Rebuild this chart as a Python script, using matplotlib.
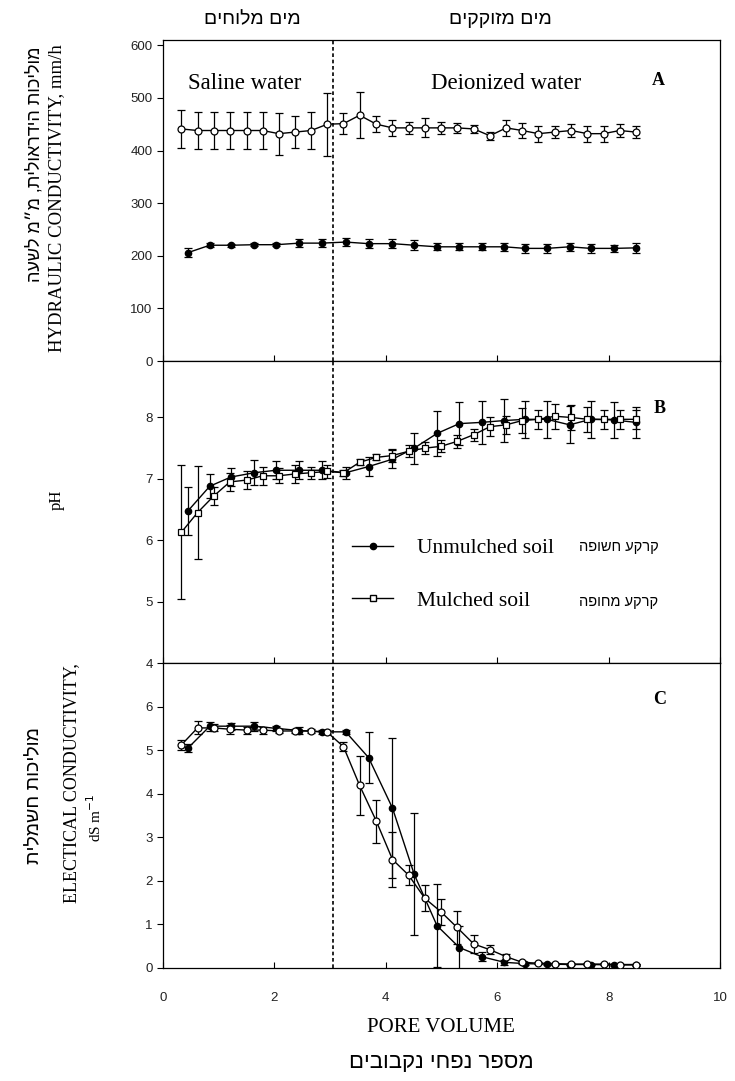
import matplotlib
matplotlib.use("Agg")
import matplotlib.pyplot as plt
from matplotlib.lines import Line2D

# ---------------- data ----------------
x_mulched = [0.33, 0.62, 0.91, 1.20, 1.50, 1.79, 2.08, 2.37, 2.66, 2.95, 3.24, 3.53, 3.83, 4.12,
             4.41, 4.70, 4.99, 5.28, 5.58, 5.87, 6.16, 6.45, 6.74, 7.03, 7.33, 7.62, 7.91, 8.20, 8.49]
x_unmulched = [0.45, 0.84, 1.22, 1.64, 2.03, 2.45, 2.85, 3.28, 3.69, 4.12, 4.51, 4.92, 5.32, 5.72,
               6.13, 6.50, 6.89, 7.30, 7.68, 8.09, 8.49]

# Panel A: hydraulic conductivity (mm/h)
hc_mulched = [441, 438, 438, 438, 438, 438, 432, 435, 438, 450, 451, 467, 450, 443, 443, 443, 443,
              443, 441, 428, 443, 438, 432, 435, 438, 432, 432, 438, 435]
hc_mulched_err = [36, 36, 36, 36, 36, 36, 40, 30, 36, 60, 20, 44, 15, 15, 12, 18, 12, 10, 8, 8,
                  15, 15, 15, 12, 12, 15, 15, 12, 12]
hc_unmulched = [206, 220, 220, 221, 221, 224, 224, 226, 223, 223, 220, 217, 217, 217, 217, 214,
                214, 217, 214, 214, 215]
hc_unmulched_err = [8, 4, 3, 3, 3, 8, 8, 8, 8, 8, 10, 7, 7, 7, 8, 8, 8, 8, 8, 7, 10]

# Panel B: pH
ph_mulched = [6.13, 6.45, 6.72, 6.95, 6.98, 7.05, 7.05, 7.08, 7.10, 7.12, 7.10, 7.27, 7.35, 7.38,
              7.45, 7.50, 7.53, 7.61, 7.72, 7.85, 7.88, 7.95, 7.97, 8.02, 8.00, 7.97, 7.97, 7.97, 7.97]
ph_mulched_err = [1.09, 0.76, 0.15, 0.15, 0.15, 0.15, 0.12, 0.15, 0.10, 0.10, 0.05, 0.05, 0.05,
                  0.10, 0.10, 0.10, 0.10, 0.10, 0.10, 0.15, 0.15, 0.20, 0.15, 0.20, 0.20, 0.20,
                  0.15, 0.15, 0.15]
ph_unmulched = [6.48, 6.88, 7.03, 7.10, 7.14, 7.14, 7.14, 7.10, 7.20, 7.32, 7.50, 7.74, 7.90, 7.92,
                7.95, 7.97, 7.97, 7.88, 7.97, 7.96, 7.92]
ph_unmulched_err = [0.39, 0.20, 0.15, 0.20, 0.15, 0.15, 0.15, 0.10, 0.15, 0.15, 0.25, 0.37, 0.35,
                    0.35, 0.35, 0.30, 0.30, 0.30, 0.30, 0.30, 0.25]

# Panel C: electrical conductivity (dS/m)
ec_mulched = [5.12, 5.51, 5.51, 5.48, 5.46, 5.46, 5.44, 5.44, 5.44, 5.41, 5.08, 4.19, 3.37, 2.49,
              2.13, 1.60, 1.29, 0.93, 0.55, 0.42, 0.26, 0.13, 0.11, 0.10, 0.09, 0.09, 0.09, 0.08, 0.08]
ec_mulched_err = [0.12, 0.15, 0.08, 0.10, 0.08, 0.08, 0.05, 0.05, 0.05, 0.05, 0.10, 0.68, 0.49,
                  0.64, 0.23, 0.30, 0.30, 0.38, 0.20, 0.10, 0.05, 0.03, 0.02, 0.02, 0.02, 0.02,
                  0.02, 0.02, 0.02]
ec_unmulched = [5.05, 5.55, 5.55, 5.55, 5.50, 5.45, 5.42, 5.42, 4.83, 3.67, 2.15, 0.97, 0.47, 0.26,
                0.13, 0.10, 0.09, 0.08, 0.08, 0.07, 0.07]
ec_unmulched_err = [0.10, 0.10, 0.08, 0.10, 0.05, 0.08, 0.05, 0.05, 0.58, 1.60, 1.40, 0.95, 0.50,
                    0.10, 0.05, 0.03, 0.02, 0.02, 0.02, 0.02, 0.02]

switch_pv = 3.05
x_ticks = [0, 2, 4, 6, 8, 10]

# ---------------- text ----------------
def rtl(s):
    return s[::-1]

SERIF = ["Liberation Serif", "DejaVu Serif"]
HEB = ["Liberation Sans", "DejaVu Sans"]
TICKF = ["Liberation Sans", "DejaVu Sans"]

fig = plt.figure(figsize=(7.35, 10.81), dpi=100)
L, W = 163 / 735, 557 / 735
def ax_rect(top_px, bot_px):
    return [L, 1 - bot_px / 1081, W, (bot_px - top_px) / 1081]

axA = fig.add_axes(ax_rect(40, 361))
axB = fig.add_axes(ax_rect(361, 663))
axC = fig.add_axes(ax_rect(663, 968))

eb_kw = dict(color="black", linewidth=1.0, elinewidth=0.9, capsize=3, capthick=0.9)

def draw(ax, yu, yue, ym, yme, mmark):
    ax.errorbar(x_unmulched, yu, yerr=yue, marker="o", markersize=4.5,
                markerfacecolor="black", markeredgecolor="black", zorder=3, **eb_kw)
    ax.errorbar(x_mulched, ym, yerr=yme, marker=mmark, markersize=5,
                markerfacecolor="white", markeredgecolor="black", markeredgewidth=0.9,
                zorder=4, **eb_kw)
    ax.axvline(switch_pv, color="black", linestyle=(0, (2.2, 1.6)), linewidth=1.2, zorder=2)
    ax.set_xlim(0, 10)
    ax.set_xticks(x_ticks)
    ax.tick_params(axis="x", direction="in", length=4, width=0.8)
    ax.tick_params(axis="y", direction="out", length=4, width=0.8)
    for s in ax.spines.values():
        s.set_linewidth(0.9)

def style_ticks(ax):
    for lab in ax.get_yticklabels() + ax.get_xticklabels():
        lab.set_fontfamily(TICKF)
        lab.set_fontsize(9.5)
        lab.set_color("#222222")

# Panel A
draw(axA, hc_unmulched, hc_unmulched_err, hc_mulched, hc_mulched_err, "o")
axA.set_ylim(0, 610)
axA.set_yticks([0, 100, 200, 300, 400, 500, 600])
axA.tick_params(axis="x", labelbottom=False)
style_ticks(axA)
axA.text(0.147, 0.866, "Saline water", transform=axA.transAxes, ha="center", va="center",
         fontsize=16.5, family=SERIF)
axA.text(0.616, 0.866, "Deionized water", transform=axA.transAxes, ha="center", va="center",
         fontsize=16.5, family=SERIF)
axA.text(0.89, 0.875, "A", transform=axA.transAxes, ha="center", va="center",
         fontsize=13, family=SERIF, fontweight="bold")

# Panel B
draw(axB, ph_unmulched, ph_unmulched_err, ph_mulched, ph_mulched_err, "s")
axB.set_ylim(4, 8.92)
axB.set_yticks([4, 5, 6, 7, 8])
axB.tick_params(axis="x", labelbottom=False)
style_ticks(axB)
axB.text(0.892, 0.844, "B", transform=axB.transAxes, ha="center", va="center",
         fontsize=13, family=SERIF, fontweight="bold")
h_un = Line2D([], [], color="black", marker="o", markersize=4.5, linewidth=1.0)
h_mu = Line2D([], [], color="black", marker="s", markersize=5, markerfacecolor="white",
              linewidth=1.0)
axB.legend([h_un, h_mu], ["Unmulched soil", "Mulched soil"], loc="center left",
           bbox_to_anchor=(0.305, 0.293), frameon=False, handlelength=1.9,
           labelspacing=1.5, handletextpad=1.1, prop={"family": SERIF, "size": 15.5})
axB.text(0.818, 0.384, rtl("קרקע חשופה"), transform=axB.transAxes, ha="center", va="center",
         fontsize=10.5, family=HEB)
axB.text(0.818, 0.202, rtl("קרקע מחופה"), transform=axB.transAxes, ha="center", va="center",
         fontsize=10.5, family=HEB)

# Panel C
draw(axC, ec_unmulched, ec_unmulched_err, ec_mulched, ec_mulched_err, "o")
axC.set_ylim(0, 7)
axC.set_yticks([0, 1, 2, 3, 4, 5, 6])
axC.tick_params(axis="x", pad=17)
style_ticks(axC)
axC.text(0.892, 0.879, "C", transform=axC.transAxes, ha="center", va="center",
         fontsize=13, family=SERIF, fontweight="bold")

# Axis labels (figure text)
def ft(xp, yp, s, **kw):
    fig.text(xp / 735, 1 - yp / 1081, s, **kw)

ft(252, 20, rtl("מים מלוחים"), ha="center", va="center", fontsize=14, family=HEB)
ft(500, 20, rtl("מים מזוקקים"), ha="center", va="center", fontsize=14, family=HEB)

ft(35, 164, rtl("מוליכות הידראולית, מ״מ לשעה"), ha="center", va="center", rotation=90,
   fontsize=13, family=HEB)
ft(57, 198, "HYDRAULIC CONDUCTIVITY, mm/h", ha="center", va="center", rotation=90,
   fontsize=13.5, family=SERIF)
ft(57, 500, "pH", ha="center", va="center", rotation=90, fontsize=12, family=SERIF)
ft(35, 795, rtl("מוליכות חשמלית"), ha="center", va="center", rotation=90,
   fontsize=14, family=HEB)
ft(72, 783, "ELECTICAL CONDUCTIVITY,", ha="center", va="center", rotation=90,
   fontsize=13, family=SERIF)
ft(95, 818, r"dS m$^{-1}$", ha="center", va="center", rotation=90, fontsize=11, family=SERIF)

ft(441, 1027, "PORE VOLUME", ha="center", va="center", fontsize=15, family=SERIF)
ft(441, 1062, rtl("מספר נפחי נקבובים"), ha="center", va="center", fontsize=16, family=HEB)

fig.savefig("out.png", dpi=100, facecolor="white")
